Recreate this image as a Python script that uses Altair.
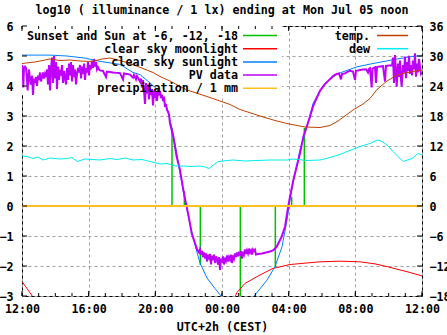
import altair as alt
import pandas as pd

# ---------------- data (hours after Sun Jul 04 12:00, value) ----------------
x_major = [0, 4, 8, 12, 16, 20, 24]
x_minor = list(range(0, 25))
left_ticks = [-3, -2, -1, 0, 1, 2, 3, 4, 5, 6]
right_ticks = [-18, -12, -6, 0, 6, 12, 18, 24, 30, 36]

# sunset / sun at -6, -12, -18 (impulses)
sun_events = [(9.00, 2.6), (9.74, 0.5), (10.70, -1.97), (13.10, -3.5),
              (15.20, -2.02), (16.18, 0.31), (16.94, 2.6)]

clear_sky_moon_1 = [(0.00, -2.52), (0.30, -2.75), (0.58, -2.97), (0.72, -3.15)]
clear_sky_moon_2 = [(12.72, -3.10), (12.90, -2.88), (13.38, -2.58), (14.28, -2.30),
                    (15.06, -2.08), (16.08, -1.95), (17.88, -1.86), (19.08, -1.84),
                    (20.28, -1.86), (21.18, -1.93), (21.90, -2.02), (23.10, -2.19),
                    (24.00, -2.33)]

clear_sky_sun = [(0.00, 5.03), (1.68, 5.03), (2.70, 5.00), (3.78, 4.93), (4.68, 4.82),
                 (5.88, 4.72), (6.66, 4.45), (7.08, 4.38), (7.68, 4.10), (8.28, 3.80),
                 (8.70, 3.25), (9.00, 2.60), (9.24, 1.90), (9.48, 1.10), (9.78, 0.20),
                 (10.08, -0.60), (10.38, -1.30), (10.68, -1.90), (11.10, -2.40),
                 (11.58, -2.75), (11.94, -3.00), (12.24, -3.20), (13.00, -4.00),
                 (13.68, -3.20), (13.98, -2.97), (14.70, -2.47), (15.18, -2.02),
                 (15.60, -1.36), (15.90, -0.47), (16.08, 0.20), (16.38, 1.09),
                 (16.68, 1.87), (17.10, 2.64), (17.46, 3.42), (18.06, 4.01),
                 (18.90, 4.40), (20.10, 4.64), (20.88, 4.73), (22.50, 4.90),
                 (23.46, 4.99), (24.00, 5.01)]

pv_afternoon = [(0.00, 4.70), (0.04, 4.55), (0.08, 3.95), (0.12, 4.62), (0.18, 4.65), (0.24, 4.60),
                (0.30, 4.20), (0.34, 3.85), (0.38, 4.30), (0.42, 4.55), (0.48, 4.20), (0.54, 4.05),
                (0.60, 4.35), (0.66, 3.70), (0.72, 4.25), (0.78, 4.10), (0.84, 4.30), (0.90, 4.00),
                (0.96, 4.35), (1.02, 4.20), (1.08, 4.45), (1.14, 4.15), (1.20, 4.30), (1.26, 4.45),
                (1.32, 4.25), (1.38, 4.40), (1.44, 4.30), (1.50, 4.55), (1.56, 4.05), (1.62, 4.70),
                (1.68, 3.85), (1.74, 4.60), (1.80, 4.95), (1.86, 4.10), (1.92, 5.00), (1.98, 4.25),
                (2.04, 4.80), (2.10, 3.90), (2.16, 4.65), (2.22, 4.20), (2.28, 4.55), (2.34, 4.35),
                (2.40, 4.70), (2.46, 4.10), (2.52, 4.50), (2.58, 4.30), (2.64, 4.05), (2.70, 4.60),
                (2.76, 4.20), (2.82, 4.75), (2.88, 4.35), (2.94, 4.80), (3.00, 4.15), (3.06, 4.70),
                (3.12, 4.30), (3.18, 4.55), (3.24, 4.05), (3.30, 4.40), (3.36, 4.60), (3.42, 4.45),
                (3.48, 4.70), (3.54, 4.25), (3.60, 4.65), (3.66, 4.40), (3.72, 4.75), (3.78, 4.20),
                (3.84, 4.60), (3.90, 4.45), (3.96, 4.80), (4.02, 4.35), (4.08, 4.70), (4.14, 4.55),
                (4.20, 4.85), (4.26, 4.60), (4.32, 4.90), (4.38, 4.65), (4.44, 4.80), (4.50, 4.55),
                (4.56, 4.62), (4.62, 4.55), (4.68, 4.52)]

pv_dusk = [(4.86, 4.50), (5.04, 4.30), (5.10, 4.48), (5.28, 4.47), (5.46, 4.45), (5.64, 4.44),
           (5.88, 4.43), (6.06, 4.22), (6.12, 4.42), (6.30, 4.40), (6.48, 4.38), (6.66, 4.28),
           (6.72, 4.37), (6.84, 4.22), (6.90, 4.33), (7.08, 4.15), (7.14, 4.25), (7.20, 3.95),
           (7.26, 4.20), (7.32, 3.85), (7.38, 3.40), (7.44, 4.10), (7.50, 3.75), (7.56, 4.05),
           (7.62, 3.55), (7.68, 3.95), (7.74, 3.70), (7.80, 3.90), (7.86, 3.35), (7.92, 3.85),
           (7.98, 3.60), (8.04, 3.80), (8.10, 3.50), (8.16, 3.85), (8.22, 3.75), (8.28, 3.84),
           (8.34, 3.60), (8.40, 3.70), (8.46, 3.50), (8.52, 3.65), (8.58, 3.30), (8.64, 3.40),
           (8.70, 3.20), (8.76, 3.15), (8.82, 3.05), (8.88, 2.76), (9.08, 2.31), (9.28, 1.64),
           (9.48, 1.20), (9.68, 0.53), (9.88, -0.02), (10.04, -0.47), (10.18, -0.91),
           (10.38, -1.24), (10.48, -1.41), (10.56, -1.50)]

pv_night = [(10.62, -1.55), (10.68, -1.45), (10.74, -1.62), (10.80, -1.50), (10.86, -1.70),
            (10.92, -1.55), (10.98, -1.75), (11.04, -1.58), (11.10, -1.85), (11.16, -1.62),
            (11.22, -1.72), (11.28, -1.60), (11.34, -1.95), (11.40, -1.65), (11.46, -1.80),
            (11.52, -1.62), (11.58, -1.90), (11.64, -1.68), (11.70, -1.78), (11.76, -1.95),
            (11.82, -1.70), (11.88, -2.13), (11.94, -1.75), (12.00, -1.88), (12.06, -1.68),
            (12.12, -1.95), (12.18, -1.72), (12.24, -1.82), (12.30, -1.65), (12.36, -1.85),
            (12.42, -1.70), (12.48, -1.78), (12.54, -1.62), (12.60, -1.90), (12.66, -1.65),
            (12.72, -1.75), (12.78, -1.58), (12.84, -1.70), (12.90, -1.55), (12.96, -1.68),
            (13.02, -1.52), (13.08, -1.65), (13.14, -1.50), (13.20, -1.75), (13.26, -1.52),
            (13.32, -1.62), (13.38, -1.45), (13.44, -1.60), (13.50, -1.48), (13.56, -1.58),
            (13.62, -1.42), (13.68, -1.55), (13.74, -1.48), (13.80, -1.62), (13.86, -1.45),
            (13.92, -1.50), (13.98, -1.46), (14.04, -1.62), (14.16, -1.60), (14.40, -1.58),
            (14.64, -1.55), (14.88, -1.52)]

pv_dawn = [(15.08, -1.47), (15.28, -1.36), (15.58, -1.02), (15.78, -0.69), (15.94, -0.13),
           (16.08, 0.31), (16.28, 0.87), (16.48, 1.31), (16.68, 1.76), (16.88, 2.31),
           (17.08, 2.64), (17.28, 2.98), (17.48, 3.35), (17.68, 3.60), (17.88, 3.84),
           (18.18, 4.07), (18.48, 4.23), (18.68, 4.34), (18.88, 4.40), (19.02, 4.42),
           (19.14, 4.22), (19.20, 4.40), (19.38, 4.42), (19.56, 4.48), (19.68, 4.51),
           (19.86, 4.48), (19.98, 4.20), (20.04, 4.50), (20.16, 4.52), (20.28, 4.53),
           (20.46, 4.55), (20.64, 4.56), (20.76, 4.45), (20.82, 4.57), (20.88, 4.59),
           (20.98, 3.95), (21.03, 4.58), (21.18, 4.62), (21.24, 4.10), (21.30, 4.63),
           (21.48, 4.65), (21.66, 4.66), (21.78, 4.15), (21.84, 4.67), (22.02, 4.68),
           (22.20, 4.68)]

pv_morning = [(22.26, 4.95), (22.32, 4.10), (22.38, 5.03), (22.44, 4.40), (22.48, 3.98),
              (22.56, 4.75), (22.62, 4.30), (22.68, 4.85), (22.74, 4.20), (22.78, 3.98),
              (22.86, 4.70), (22.92, 4.45), (22.98, 4.98), (23.04, 4.26), (23.10, 4.80),
              (23.16, 4.50), (23.22, 5.01), (23.28, 4.40), (23.34, 4.70), (23.40, 4.35),
              (23.46, 4.85), (23.52, 4.55), (23.58, 5.09), (23.64, 4.31), (23.70, 4.75),
              (23.76, 4.45), (23.82, 4.90), (23.88, 4.64), (23.94, 4.40), (24.00, 4.45)]

precipitation = [(0.0, 0.0), (24.0, 0.0)]

temperature = [(0.00, 28.5), (0.78, 28.8), (1.68, 29.4), (2.28, 29.1), (2.88, 29.2), (3.48, 29.0),
               (4.20, 28.9), (4.80, 29.4), (5.28, 29.6), (5.88, 29.1), (6.48, 28.5), (7.26, 27.5),
               (7.86, 26.7), (8.28, 25.9), (8.88, 25.0), (9.90, 23.2), (11.10, 21.9), (11.88, 21.0),
               (12.48, 20.3), (13.08, 19.3), (14.28, 18.0), (15.18, 17.1), (15.90, 16.5),
               (16.50, 16.1), (16.98, 15.8), (17.88, 15.7), (18.48, 16.1), (18.96, 17.0),
               (19.86, 19.2), (20.46, 20.4), (20.88, 21.5), (21.30, 23.3), (21.90, 25.0),
               (22.50, 26.2), (22.98, 26.6), (23.46, 26.9), (24.00, 27.2)]

dew_point = [(0.00, 10.0), (0.30, 9.9), (0.66, 9.5), (0.96, 9.8), (1.26, 9.2), (1.68, 9.6),
             (2.28, 9.4), (2.70, 9.5), (3.00, 9.7), (3.30, 8.9), (3.78, 9.4), (4.68, 9.2),
             (5.28, 9.5), (5.70, 9.3), (6.18, 9.6), (6.66, 9.2), (7.20, 9.3), (7.68, 8.9),
             (8.28, 8.4), (8.70, 8.5), (9.18, 8.0), (9.66, 8.0), (10.08, 7.9), (10.68, 8.0),
             (10.98, 7.8), (11.22, 7.5), (11.52, 8.3), (11.76, 8.9), (12.66, 9.2), (13.38, 9.0),
             (14.10, 9.1), (14.88, 9.2), (15.90, 9.2), (16.26, 9.4), (17.10, 9.1), (17.88, 9.2),
             (18.48, 9.7), (19.08, 10.3), (19.50, 10.9), (19.98, 11.5), (20.28, 11.9),
             (20.88, 12.5), (21.12, 12.9), (21.36, 13.2), (21.60, 12.9), (21.90, 12.2),
             (22.38, 10.5), (22.86, 8.9), (23.40, 9.5), (23.76, 10.5), (24.00, 10.2)]

legend_left = ["Sunset and Sun at -6, -12, -18", "clear sky moonlight", "clear sky sunlight",
               "PV data", "precipitation / 1 mm"]
legend_right = ["temp.", "dew"]

title_text = "log10 ( illuminance / 1 lx) ending at Mon Jul 05 noon"
x_title = "UTC+2h (CEST)"

# ---------------- styles ----------------
GREEN, RED, BLUE, PURPLE = "#00c000", "#ff0000", "#0080ff", "#c000ff"
ORANGE, BROWN, CYAN = "#ffc020", "#c04000", "#00eeee"
GRID = "#a0a0a0"
FONT = "DejaVu Sans Mono"
FS = 11.7
W, H = 400, 270

X = alt.X("h:Q", scale=alt.Scale(domain=[0, 24], nice=False, zero=False),
          axis=alt.Axis(values=x_major,
                        labelExpr="format((datum.value + 12) % 24, '02d') + ':00'",
                        ticks=False, tickSize=0, domain=False,
                        grid=True, gridColor=GRID, gridDash=[3, 3], gridWidth=1,
                        labelFont=FONT, labelFontSize=FS, labelFontWeight="bold",
                        labelColor="black", labelPadding=12, labelBaseline="middle",
                        labelAngle=0, labelFlush=False, labelOverlap=False,
                        title=x_title, titleFont=FONT, titleFontSize=FS,
                        titleFontWeight="bold", titleColor="black", titlePadding=7))

YL = alt.Y("v:Q", scale=alt.Scale(domain=[-3, 6], nice=False, zero=False),
           axis=alt.Axis(values=left_ticks, ticks=False, tickSize=0, domain=False,
                         grid=True, gridColor=GRID, gridDash=[3, 3], gridWidth=1,
                         labelFont=FONT, labelFontSize=FS, labelFontWeight="bold",
                         labelColor="black", labelPadding=9, labelFlush=False,
                         labelOverlap=False, title=None))


def df(points, ycol="v"):
    return pd.DataFrame(points, columns=["h", ycol])


layers = []

# key background hides grid behind legend text
layers.append(alt.Chart(pd.DataFrame({"k": [0]})).mark_rect(color="white").encode(
    x=alt.value(0), x2=alt.value(260), y=alt.value(0), y2=alt.value(69)))

layers.append(alt.Chart(df(sun_events)).transform_calculate(z="0").mark_rule(
    color=GREEN, strokeWidth=1.5, clip=True).encode(x=X, y=YL, y2="z:Q"))

moon = pd.concat([df(clear_sky_moon_1).assign(seg=1), df(clear_sky_moon_2).assign(seg=2)])
layers.append(alt.Chart(moon).mark_line(color=RED, strokeWidth=1, clip=True).encode(
    x=X, y=YL, detail="seg:N"))

layers.append(alt.Chart(df(clear_sky_sun)).mark_line(color=BLUE, strokeWidth=1, clip=True).encode(
    x=X, y=YL))

pv = pd.concat([df(pv_afternoon), df(pv_dusk), df(pv_night), df(pv_dawn), df(pv_morning)])
layers.append(alt.Chart(pv).mark_line(color=PURPLE, strokeWidth=2, clip=True).encode(
    x=X, y=YL, order="h:Q"))

layers.append(alt.Chart(df(precipitation)).mark_line(color=ORANGE, strokeWidth=2, clip=True).encode(
    x=X, y=YL))

layers.append(alt.Chart(df(temperature, "t")).transform_calculate(v="datum.t / 6").mark_line(
    color=BROWN, strokeWidth=1, clip=True).encode(x=X, y=YL))

layers.append(alt.Chart(df(dew_point, "t")).transform_calculate(v="datum.t / 6").mark_line(
    color=CYAN, strokeWidth=1, clip=True).encode(x=X, y=YL))

# inward ticks (gnuplot style)
maj = pd.DataFrame({"h": x_major})
mnr = pd.DataFrame({"h": x_minor})
for d, ln in ((maj, 5), (mnr, 3)):
    layers.append(alt.Chart(d).mark_rule(color="black").encode(
        x=X, y=alt.value(H), y2=alt.value(H - ln)))
    layers.append(alt.Chart(d).mark_rule(color="black").encode(
        x=X, y=alt.value(0), y2=alt.value(ln)))
lt = pd.DataFrame({"v": left_ticks})
layers.append(alt.Chart(lt).mark_rule(color="black").encode(
    y=YL, x=alt.value(0), x2=alt.value(5)))

# legend
colors_left = [GREEN, RED, BLUE, PURPLE, ORANGE]
colors_right = [BROWN, CYAN]
entries = [(n, c, 0, i) for i, (n, c) in enumerate(zip(legend_left, colors_left))] + \
          [(n, c, 1, i) for i, (n, c) in enumerate(zip(legend_right, colors_right))]
for name, col, column, row in entries:
    py = 9.5 + 13.2 * row
    tx, s1, s2 = (216, 221, 255) if column == 0 else (348, 355, 386)
    layers.append(alt.Chart(pd.DataFrame({"label": [name]})).mark_text(
        align="right", baseline="middle", font=FONT, fontSize=FS, fontWeight="bold",
        color="black").encode(x=alt.value(tx), y=alt.value(py), text="label:N"))
    layers.append(alt.Chart(pd.DataFrame({"label": [name]})).mark_rule(
        color=col, strokeWidth=1.5).encode(x=alt.value(s1), x2=alt.value(s2), y=alt.value(py)))

# title
layers.append(alt.Chart(pd.DataFrame({"label": [title_text]})).mark_text(
    align="center", baseline="middle", font=FONT, fontSize=FS, fontWeight="bold",
    color="black").encode(x=alt.value(W / 2), y=alt.value(-16), text="label:N"))

main = alt.layer(*layers)

right = alt.Chart(pd.DataFrame({"t": right_ticks})).mark_rule(color="black").encode(
    x=alt.value(W - 5), x2=alt.value(W),
    y=alt.Y("t:Q", scale=alt.Scale(domain=[-18, 36], nice=False, zero=False),
            axis=alt.Axis(orient="right", values=right_ticks, ticks=False, tickSize=0,
                          domain=False, grid=False, labelFont=FONT, labelFontSize=FS,
                          labelFontWeight="bold", labelColor="black", labelPadding=7,
                          labelFlush=False, labelOverlap=False,
                          labelExpr="datum.value >= 0 ? '\u00a0' + datum.label : datum.label",
                          title=None)))

chart = alt.layer(main, right).resolve_scale(y="independent").properties(
    width=W, height=H,
    autosize=alt.AutoSizeParams(type="none"),
    padding={"left": 22, "top": 26, "right": 25, "bottom": 39},
    background="white",
).configure_view(stroke="black", strokeWidth=1)

chart.save("out.html", embed_options={"renderer": "svg", "actions": False})
